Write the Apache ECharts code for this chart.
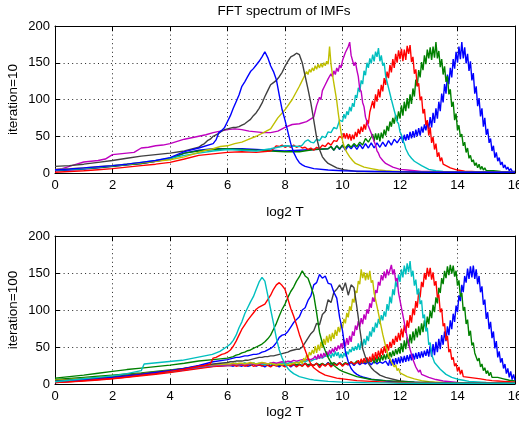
<!DOCTYPE html>
<html>
<head>
<meta charset="utf-8">
<script src="https://cdn.jsdelivr.net/npm/echarts@6/dist/echarts.min.js"></script>
<style>
  html, body { margin: 0; padding: 0; background: #fff; }
  #chart { width: 519px; height: 425px; }
</style>
</head>
<body>
<div id="chart"></div>
<script>
// Spectra of the IMFs, amplitude against log2 of the period.
// Each curve is a list of segments [fromT, toT, values]; the values of a
// segment sit at equal steps between fromT and toT.

const xTickLabels = [0, 2, 4, 6, 8, 10, 12, 14, 16];
const yTickLabels = [0, 50, 100, 150, 200];
const colorOrder = ['#0000ff', '#008000', '#ff0000', '#00bfbf', '#bf00bf', '#bfbf00', '#404040'];

// ---- iteration = 10 ----
const imf10_1 = [
  [0, 9.5, [3,4,5.5,7,9,11,13,16,19,27,31,33,33,33,32,31,30,31,32,33]],
  [9.6, 12.0, [36,31,37,32,38,31,37,33,38,32,39,33,40,34,41,34,41,35,42,36,44,38,46,41,47]],
  [12.05, 16.0, [50,41,52,44,53,45,56,47,57,48,59,50,61,51,63,55,66,58,70,60,76,62,82,68,88,74,97,84,108,96,121,108,134,121,143,130,155,142,165,150,172,155,178,156,171,149,162,139,152,126,136,108,118,91,102,77,88,63,75,52,60,41,47,30,37,21,28,16,21,11,15,7,11,5,8,3,6,2.5,5,2]]
];
const imf10_2 = [
  [0, 9.5, [4,5,6,7.5,9,11,13,16,20,27,30,32,33,32,31,30,29,29,32,33]],
  [9.6, 11.0, [36,31,37,33,38,34,39,35,40,36,42,38,47,42,49]],
  [11.05, 15.0, [53,43,54,45,54,43,55,47,59,51,64,57,70,63,75,67,79,71,84,74,92,78,97,84,102,88,107,94,115,104,127,118,140,130,151,140,160,148,168,156,171,154,172,157,178,156,166,144,155,134,145,124,132,107,114,90,97,72,81,58,65,49,53,37,42,28,34,20,24,15,18,10,14,7,12,5,9,4,7,3]],
  [15.25, 16, [3,2,1.5,1]]
];
const imf10_3 = [
  [0, 7.5, [1,2,3,4.5,6,8,10,12,14.5,19,24,26,28,29,28,30]],
  [7.6, 10.0, [33,37,36,38,35,37,35,38,35,37,34,35,32,34,31,35,33,38,36,41,38,44,43,50,47]],
  [10.05, 13.5, [54,47,54,46,53,44,52,46,56,49,60,53,63,56,66,59,72,67,83,81,98,88,107,97,114,103,120,111,129,120,138,129,147,137,155,143,162,150,167,155,169,152,168,154,173,162,174,151,158,135,141,118,122,99,104,81,87,65,72,51,62,41,49,32,40,22,28,16,21,12]],
  [13.75, 16, [7,4,2.5,2,1.5,1.5,1,1,1,1]]
];
const imf10_4 = [
  [0, 8.5, [4,5,6,8,10,12,14.5,17,20,24,27,30,32,31,30,33,37,36]],
  [8.6, 10.0, [38,43,45,42,41,46,44,50,48,56,55,62,60,72,70]],
  [10.05, 12.5, [80,74,84,79,90,84,95,90,106,102,116,110,126,121,139,133,150,143,156,149,161,152,165,158,170,152,160,146,150,132,134,116,118,100,100,85,83,70,67,56,52,44,40,33,31,25,24,20,19,16]],
  [12.75, 16, [10,5,3,2,1.5,1.5,1,1,1,1,1,1,1,1]]
];
const imf10_5 = [
  [0, 9.0, [4.5,6,9,12,15,16,17,19,25,26,27,28,34,35,37,38,40,43,46,48,50,52,55,57,59,60,59,57,56,55,55,57,62,66,67,70,76]],
  [9.05, 11.5, [84,92,93,103,100,112,110,120,119,128,126,135,131,139,134,143,138,147,143,153,152,164,163,172,178,160,158,146,151,140,131,114,111,96,90,76,74,64,65,54,54,43,38,30,27,22,21,17,16,13]],
  [11.75, 13, [8,5,4,3,2,2]],
  [13.5, 16, [1.5,1,1,1,1,1]]
];
const imf10_6 = [
  [0, 5, [5,6,7,8.5,10,12,14,16,18,22,28]],
  [5.25, 8.5, [31,33,36,37,40,42,46,50,55,60,75,86,100,118]],
  [8.55, 10.5, [122,126,130,134,138,134,141,137,143,139,146,141,148,143,149,144,150,146,152,148,172,148,134,122,110,98,82,68,55,44,37,32,28,25,22,20,17,15,13,12]],
  [10.75, 12, [8,6,4,3,2.5,2]],
  [12.5, 16, [1.5,1.5,1,1,1,1,1,1]]
];
const imf10_7 = [
  [0, 5, [9,10,12,14.5,17,20,23,25,27,30,35]],
  [5.1, 10.5, [38,40,44,46,50,52,54,57,59,60,61,62,62,63,65,67,70,73,78,82,88,95,104,112,120,123,126,131,137,145,152,158,160,163,161,150,132,114,95,72,48,32,22,17,13,11,9,7,6,5,4,3.5,3,2.5,2]],
  [11, 16, [2,1.5,1.5,1,1,1,1,1,1,1,1]]
];
const imf10_8 = [
  [0, 5.5, [4.5,5.5,7,8.5,10,12,14.5,17,21,29,34,40]],
  [5.6, 9.0, [45,55,58,62,70,78,88,97,106,118,124,131,138,142,147,152,158,165,157,146,138,127,106,86,72,56,40,28,20,14,11,9,8,7,6]],
  [9.5, 16, [4,3,2.5,2,2,1.5,1.5,1,1,1,1,1,1,1]]
];

// ---- iteration = 100 ----
const imf100_1 = [
  [0, 6, [2,3.5,5,6.5,8,10,12,14,16.5,19,22,24,25]],
  [6.1, 11.5, [25,24,26,25,24,26,24,25,27,24,26,25,23,26,24,27,25,23,26,24,27,23,26,24,27,25,28,24,27,25,28,24,27,25,29,24,28,26,29,25,28,26,29,25,30,26,29,27,30,26,31,27,30,28,31]],
  [11.55, 16, [33,25,34,25,34,26,35,27,36,28,37,29,38,30,39,31,40,32,41,33,42,34,43,35,44,36,45,38,47,37,52,37,54,39,57,43,61,47,66,53,71,58,78,66,86,74,95,84,106,97,120,112,134,124,146,137,156,142,159,144,160,142,155,135,146,124,132,107,114,88,97,74,84,62,71,48,58,36,44,29,35,21,27,14,21,9,17,6,13,5]]
];
const imf100_2 = [
  [0, 6, [6,7.5,9,10.5,12,13.5,15,17,19,21,23,25,26]],
  [6.1, 11.0, [26,27,28,26,27,28,27,26,28,27,26,28,27,25,28,26,27,25,28,26,27,25,28,26,27,24,28,26,27,25,28,26,28,25,28,27,29,26,28,26,29,27,30,27,31,28,31,29,32,30]],
  [11.05, 15.2, [35,28,36,29,37,30,39,32,40,33,41,34,43,36,45,38,47,40,49,41,55,43,59,47,63,51,67,55,71,59,75,63,78,66,82,70,86,74,91,81,99,89,107,97,117,109,130,123,143,135,153,143,159,147,161,149,160,145,153,133,140,118,123,99,104,81,87,65,72,52,56,42,44,31,35,23,27,18,22,14,18,11,16,9]],
  [15.4, 16, [9,7,5,4]]
];
const imf100_3 = [
  [0, 6, [2,3,4,5.5,7,9,11,13,15.5,18,21,23.5,25]],
  [6.1, 10.5, [25,26,24,25,26,24,25,27,24,25,26,24,26,25,23,26,24,27,25,23,26,24,27,23,26,24,28,23,26,25,28,22,27,24,28,23,27,25,29,24,28,26,30,27,29]],
  [10.55, 14.2, [32,27,34,28,35,29,36,30,37,30,41,32,43,34,45,36,48,39,51,42,54,45,57,49,61,53,65,57,69,59,75,63,80,69,86,76,93,83,102,93,112,103,124,117,138,131,150,141,157,145,157,141,151,133,139,117,121,97,102,78,82,59,65,43,47,33,36,24,28,17,23,13,19,10]],
  [14.4, 16, [9,8,7,5.5,4.5,4,3.5,3,2.5]]
];
const imf100_4 = [
  [0, 6, [3,4.5,6,7.5,9,11,13,15,17,20,22.5,25,26]],
  [6.1, 9.5, [26,27,27,26,27,28,27,27,28,27,28,27,26,27,28,27,26,27,28,27,28,29,28,30,29,31,30,32,31,33,34,36,35,38,37]],
  [9.55, 13.2, [41,35,42,37,44,38,43,35,41,35,42,37,44,40,47,43,50,45,51,46,55,46,58,50,61,53,65,58,71,64,77,70,83,76,88,81,93,86,98,91,108,99,118,109,128,120,139,131,148,138,155,144,160,148,163,151,166,145,153,133,141,121,129,108,113,89,94,71,76,53,56,40,42,29]],
  [13.4, 14.4, [20,13,9,6.5,5,3.5]],
  [15, 16, [2,1.5,1]]
];
const imf100_5 = [
  [0, 6, [4,5,6.5,8,9.5,11.5,13.5,15.5,18,20,23,25,26]],
  [6.1, 9.0, [26,27,26,27,27,26,27,28,27,26,27,28,28,27,28,29,28,29,30,29,31,30,32,31,32,33,32,34,33,35]],
  [9.05, 12.8, [38,33,40,34,41,35,42,37,44,39,46,41,48,43,50,45,52,47,55,48,60,51,62,53,65,57,71,65,79,73,85,77,89,81,94,87,101,95,109,103,117,111,127,123,138,133,147,140,152,143,155,147,149,161,148,155,139,143,123,123,103,103,83,83,63,63,47,45,33,33,23,25,16,19,13,15]],
  [13.0, 14.0, [9,6,4,3,2]],
  [14.5, 16, [1.5,1,1,1]]
];
const imf100_6 = [
  [0, 6, [5,6,7.5,9,10.5,12,14,16,18,21,24,26,27]],
  [6.1, 8.5, [27,28,27,28,28,27,28,29,28,27,28,29,28,27,28,27,26,27,26,27,26,27,28,29,28]],
  [8.55, 12.0, [32,27,35,31,39,35,43,39,46,41,51,42,53,45,57,49,61,53,65,56,67,58,69,61,73,65,77,70,82,75,88,82,96,90,105,99,115,110,126,123,139,135,155,143,151,140,150,141,153,137,140,123,124,105,105,86,86,67,68,51,52,38,40,30,32,23,26,18,21,15]],
  [12.25, 13.5, [10,7,4.5,3,2.5,2]],
  [14, 16, [1.5,1,1,1,1]]
];
const imf100_7 = [
  [0, 6, [4,5.5,7,8.5,10,12,14,16,18,21,24,27,29]],
  [6.1, 11.3, [30,30,31,31,31,32,32,33,34,35,36,36,37,37,38,38,39,40,41,42,43,45,46,47,47,50,56,62,68,72,82,80,94,98,114,110,124,128,134,126,137,120,134,130,104,75,48,36,28,22,18,15,12]],
  [11.5, 16, [9,4,2.5,2,1.5,1.5,1,1,1,1]]
];
const imf100_8 = [
  [0, 6, [3,4,5.5,7,9,11,13,15.5,18,21,25,30,33]],
  [6.1, 10.9, [34,35,36,36,37,38,38,39,40,40,41,43,44,46,48,51,56,63,66,67,71,77,83,87,91,100,103,113,119,134,137,148,143,146,136,135,124,116,90,72,44,30,21,16,13,11,9.5,8.5,7.5]],
  [11, 16, [6.5,4,2.5,2,1.5,1.5,1,1,1,1,1]]
];
const imf100_9 = [
  [0, 6, [8,10,12,14.5,17,19.5,21.5,23.5,25.5,28,31,33,35]],
  [6.1, 10.0, [36,37,39,40,42,43,45,46,48,50,52,54,57,61,66,74,82,92,101,108,117,125,131,139,145,153,146,143,132,120,96,70,55,45,36,29,25,22,19,17]],
  [10.5, 16, [10,6,4.5,3.5,2.5,2,1.5,1.5,1,1,1,1]]
];
const imf100_10 = [
  [0, 5, [2,3,4.5,6,7.5,9.5,12,14,17,20,24]],
  [5.2, 6.0, [25,26,27,35,36,38,40,41,43]],
  [6.1, 10.0, [46,51,58,66,74,80,86,91,96,101,104,106,108,114,120,128,134,137,133,128,115,102,92,80,67,56,46,35,27,22,19,16,14,12,11,10,9,8,7.5,7]],
  [10.5, 16, [4.5,3.5,2.5,2,1.5,1.5,1,1,1,1,1,1]]
];
const imf100_11 = [
  [0, 3, [3,5,7,9,11,14,18]],
  [3.1, 6.0, [27,28,29,30,31,32,34,36,38,40,44,51]],
  [6.1, 9.0, [54,59,66,76,84,95,103,111,118,128,138,144,139,120,101,82,62,46,35,27,21,17,14,12,10,9,8,7,6,5.5]],
  [9.5, 16, [3.5,2.5,2,1.5,1.5,1,1,1,1,1,1,1,1,1]]
];

const panels = [
  { label: 'iteration=10',  xNameGap: 32, curves: [imf10_1, imf10_2, imf10_3, imf10_4, imf10_5, imf10_6, imf10_7, imf10_8] },
  { label: 'iteration=100', xNameGap: 21, curves: [imf100_1, imf100_2, imf100_3, imf100_4, imf100_5, imf100_6, imf100_7, imf100_8, imf100_9, imf100_10, imf100_11] }
];

// Lay the segment values out on their log2 T positions.
function toPoints(segments) {
  const pts = [];
  segments.forEach(([x0, x1, vals]) => {
    const step = vals.length > 1 ? (x1 - x0) / (vals.length - 1) : 0;
    vals.forEach((v, i) => pts.push([x0 + i * step, v]));
  });
  return pts;
}

const FONT = '"Liberation Sans", Arial, Helvetica, sans-serif';
const xMin = xTickLabels[0], xMax = xTickLabels[xTickLabels.length - 1];
const xStep = xTickLabels[1] - xTickLabels[0];
const yMin = yTickLabels[0], yMax = yTickLabels[yTickLabels.length - 1];
const yStep = yTickLabels[1] - yTickLabels[0];

const grids = [
  { left: 55, top: 26, width: 460, height: 147, containLabel: false, outerBoundsMode: 'none' },
  { left: 55, top: 236, width: 460, height: 148, containLabel: false, outerBoundsMode: 'none' }
];

const frameLine = { show: true, onZero: false, lineStyle: { color: '#000', width: 1 } };
const innerTick = { show: true, inside: true, length: 5, lineStyle: { color: '#000', width: 1 } };
const dotted = { show: true, lineStyle: { color: '#222', width: 1, type: [1, 3.3] } };

const xAxes = [], yAxes = [], series = [];
panels.forEach((panel, g) => {
  xAxes.push({
    type: 'value', gridIndex: g, position: 'bottom',
    min: xMin, max: xMax, interval: xStep,
    axisLine: frameLine, axisTick: innerTick, splitLine: dotted,
    axisLabel: { color: '#000', fontSize: 13, margin: 6, fontFamily: FONT, showMaxLabel: true, showMinLabel: true },
    name: 'log2 T', nameLocation: 'middle', nameGap: panel.xNameGap, nameMoveOverlap: false,
    nameTextStyle: { color: '#000', fontSize: 13.5, fontFamily: FONT }
  });
  xAxes.push({
    type: 'value', gridIndex: g, position: 'top',
    min: xMin, max: xMax, interval: xStep,
    axisLine: frameLine, axisTick: innerTick, splitLine: { show: false },
    axisLabel: { show: false }
  });
  yAxes.push({
    type: 'value', gridIndex: g, position: 'left',
    min: yMin, max: yMax, interval: yStep,
    axisLine: frameLine, axisTick: innerTick, splitLine: dotted,
    axisLabel: { color: '#000', fontSize: 13, margin: 5, fontFamily: FONT },
    name: panel.label, nameLocation: 'middle', nameGap: 35, nameRotate: 90, nameMoveOverlap: false,
    nameTextStyle: { color: '#000', fontSize: 13.5, fontFamily: FONT }
  });
  yAxes.push({
    type: 'value', gridIndex: g, position: 'right',
    min: yMin, max: yMax, interval: yStep,
    axisLine: frameLine, axisTick: innerTick, splitLine: { show: false },
    axisLabel: { show: false }
  });
  panel.curves.forEach((curve, i) => {
    const color = colorOrder[i % colorOrder.length];
    series.push({
      type: 'line',
      xAxisIndex: 2 * g, yAxisIndex: 2 * g,
      data: toPoints(curve),
      showSymbol: false, symbol: 'none',
      lineStyle: { color: color, width: 1.4 },
      itemStyle: { color: color },
      silent: true
    });
  });
});

const chart = echarts.init(document.getElementById('chart'), null, { renderer: 'canvas' });
chart.setOption({
  animation: false,
  backgroundColor: '#fff',
  title: {
    text: 'FFT spectrum of IMFs',
    left: 284, top: 4, textAlign: 'center', padding: 0,
    textStyle: { color: '#000', fontSize: 13.5, fontWeight: 'normal', fontFamily: FONT }
  },
  grid: grids,
  xAxis: xAxes,
  yAxis: yAxes,
  series: series
});
</script>
</body>
</html>
